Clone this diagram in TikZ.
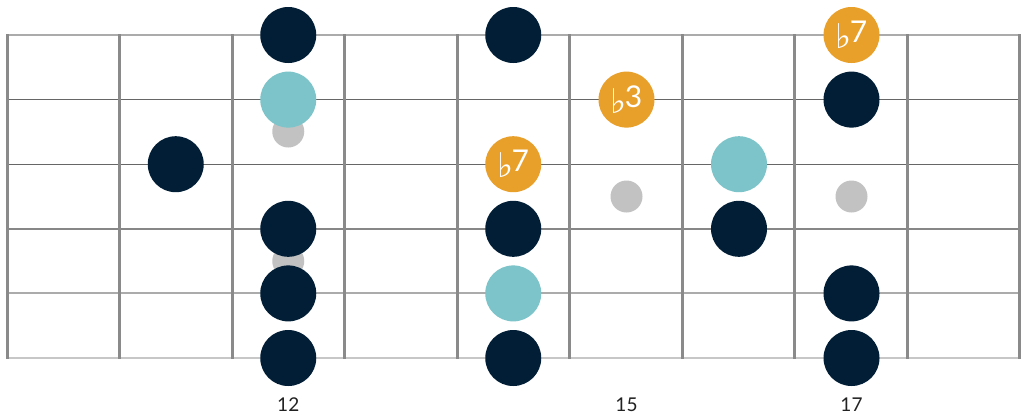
\documentclass[tikz,border=0pt]{standalone}
\usepackage{fontspec}
\setmainfont{Lato}
\newfontfamily\symfont{DejaVu Sans}
\definecolor{navy}{HTML}{011E36}
\definecolor{teal}{HTML}{7CC4C9}
\definecolor{amber}{HTML}{E9A02A}
\definecolor{marker}{HTML}{C2C2C2}
\definecolor{fretc}{HTML}{8A8A8A}
\definecolor{labelc}{HTML}{222222}
\newcommand{\flatnote}[1]{\raisebox{-6pt}{\symfont\fontsize{34}{34}\selectfont ♭}\kern-2pt{\fontsize{30}{30}\selectfont #1}}
\begin{document}
\begin{tikzpicture}[x=1pt,y=-1pt,
  note/.style={circle,inner sep=0pt,minimum size=56pt,fill=navy},
  root/.style={note,fill=teal},
  blue/.style={note,fill=amber,text=white},
  inlay/.style={circle,inner sep=0pt,minimum size=32pt,fill=marker},
  fretnum/.style={text=labelc,font=\fontsize{19}{19}\selectfont,inner sep=0pt}]
\useasboundingbox (0,0) rectangle (1024,416);
\fill[white] (0,0) rectangle (1024,416);
% strings
\draw[line width=1.5pt,color=black!33] (7,35) -- (1019.5,35);
\draw[line width=1.1pt,color=black!60] (7,99.6) -- (1019.5,99.6);
\draw[line width=1.1pt,color=black!60] (7,164.2) -- (1019.5,164.2);
\draw[line width=2pt,color=black!47] (7,228.8) -- (1019.5,228.8);
\draw[line width=2pt,color=black!33] (7,293.4) -- (1019.5,293.4);
\draw[line width=2.6pt,color=black!22] (7,358) -- (1019.5,358);
% frets
\foreach \k in {0,...,9}
  \draw[line width=3pt,color=fretc] ({7+112.5*\k},34) -- ({7+112.5*\k},359);
% inlays
\node[inlay] (i12a) at (288.25,131.5) {};
\node[inlay] (i12b) at (288.25,261.1) {};
\node[inlay] (i15) at (626.5,196.5) {};
\node[inlay] (i17) at (851.5,196.5) {};
% fret 11
\node[note] (a3) at (175.75,164.2) {};
% fret 12
\node[note] (b1) at (288.25,35) {};
\node[root] (b2) at (288.25,99.6) {};
\node[note] (b4) at (288.25,228.8) {};
\node[note] (b5) at (288.25,293.4) {};
\node[note] (b6) at (288.25,358) {};
% fret 14
\node[note] (c1) at (513.25,35) {};
\node[blue] (c3) at (513.25,164.2) {\flatnote{7}};
\node[note] (c4) at (513.25,228.8) {};
\node[root] (c5) at (513.25,293.4) {};
\node[note] (c6) at (513.25,358) {};
% fret 15
\node[blue] (d2) at (626.5,99.6) {\flatnote{3}};
% fret 16
\node[root] (e3) at (739,164.2) {};
\node[note] (e4) at (739,228.8) {};
% fret 17
\node[blue] (f1) at (851.5,35) {\flatnote{7}};
\node[note] (f2) at (851.5,99.6) {};
\node[note] (f5) at (851.5,293.4) {};
\node[note] (f6) at (851.5,358) {};
% fret numbers
\node[fretnum] (n12) at (288.25,405) {12};
\node[fretnum] (n15) at (626.5,405) {15};
\node[fretnum] (n17) at (851.5,405) {17};
\end{tikzpicture}
\end{document}
